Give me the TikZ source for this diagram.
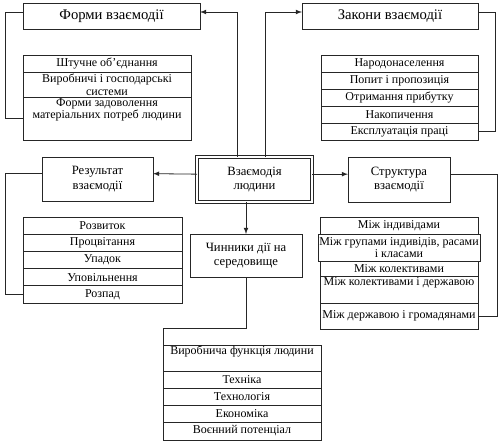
\documentclass[tikz,border=0pt]{standalone}
\usepackage{fontspec}
\setmainfont{Liberation Serif}
\usetikzlibrary{arrows, positioning}
\tikzstyle{title} = [rectangle, draw=black!85, align=center, anchor=north west, outer sep=0pt, font=\fontsize{11}{13}\selectfont]
\tikzstyle{block} = [rectangle, draw=black!85, align=center, anchor=north west, outer sep=0pt, font=\fontsize{9.5}{11}\selectfont]
\tikzstyle{row} = [rectangle, draw=black!85, align=center, inner sep=0pt, inner xsep=1pt, outer sep=0pt, font=\fontsize{9}{9.5}\selectfont]
\tikzstyle{frow} = [row, minimum width=126pt]
\tikzstyle{zrow} = [row, minimum width=117.75pt]
\tikzstyle{rrow} = [row, minimum width=119.25pt]
\tikzstyle{crow} = [row, minimum width=118.5pt]
\tikzstyle{srow} = [row, minimum width=118.5pt]
\tikzstyle{arrow} = [->, >=latex, black!85]
\tikzstyle{link} = [black!85]

\begin{document}
\begin{tikzpicture}[x=0.75pt, y=-0.75pt, line width=0.6pt]
    \useasboundingbox (0,0) rectangle (500,442);

    % Main boxes
    \node (forms) [title, minimum width=132.75pt, minimum height=19.5pt] at (23,3) {Форми взаємодії};
    \node (laws) [title, minimum width=132pt, minimum height=19.5pt] at (302,3) {Закони взаємодії};
    \node (result) [block, minimum width=83.25pt, minimum height=33pt] at (42,157) {Результат\\взаємодії};
    \node (human) [block, minimum width=86.25pt, minimum height=33.75pt, double, double distance=1.2pt] at (197,157) {Взаємодія\\людини};
    \node (struct) [block, minimum width=76.5pt, minimum height=33.75pt] at (348,157) {Структура\\взаємодії};
    \node (factors) [block, minimum width=84pt, minimum height=32.25pt] at (190,234) {Чинники дії на\\середовище};

    % Forms list
    \node (f1) [frow, minimum height=12.75pt, anchor=north west] at (23,55) {Штучне об’єднання};
    \node (f2) [frow, minimum height=18.75pt, below=0pt of f1] {Виробничі і господарські\\системи};
    \node (f3) [frow, minimum height=32.25pt, text depth=15pt, below=0pt of f2] {Форми задоволення\\матеріальних потреб людини};

    % Laws list
    \node (z1) [zrow, minimum height=12.75pt, anchor=north west] at (321,55) {Народонаселення};
    \node (z2) [zrow, minimum height=12.75pt, below=0pt of z1] {Попит і пропозиція};
    \node (z3) [zrow, minimum height=12.75pt, below=0pt of z2] {Отримання прибутку};
    \node (z4) [zrow, minimum height=12.75pt, below=0pt of z3] {Накопичення};
    \node (z5) [zrow, minimum height=12.75pt, below=0pt of z4] {Експлуатація праці};

    % Result list
    \node (r1) [rrow, minimum height=12.9pt, anchor=north west] at (23,217) {Розвиток};
    \node (r2) [rrow, minimum height=12.9pt, below=0pt of r1] {Процвітання};
    \node (r3) [rrow, minimum height=12.9pt, below=0pt of r2] {Упадок};
    \node (r4) [rrow, minimum height=12.9pt, below=0pt of r3] {Уповільнення};
    \node (r5) [rrow, minimum height=12.9pt, below=0pt of r4] {Розпад};

    % Factors list
    \node (c1) [crow, minimum height=19.5pt, text height=7pt, text depth=12pt, anchor=north west] at (163,345) {Виробнича функція людини};
    \node (c2) [crow, minimum height=12.75pt, below=0pt of c1] {Техніка};
    \node (c3) [crow, minimum height=12.75pt, below=0pt of c2] {Технологія};
    \node (c4) [crow, minimum height=12.75pt, below=0pt of c3] {Економіка};
    \node (c5) [crow, minimum height=13.5pt, below=0pt of c4] {Воєнний потенціал};

    % Structure list
    \node (s1) [srow, minimum height=12.75pt, anchor=north west] at (320,217) {Між індивідами};
    \node (s2) [srow, minimum height=20.25pt, below=0pt of s1] {Між групами індивідів, расами\\і класами};
    \node (s3) [srow, minimum height=11.25pt, below=0pt of s2] {Між колективами};
    \node (s4) [srow, minimum height=20.25pt, text height=7pt, text depth=12.5pt, below=0pt of s3] {Між колективами і державою};
    \node (s5) [srow, minimum height=19.5pt, below=0pt of s4] {Між державою і громадянами};

    % Connections
    \draw [arrow] ([xshift=-13pt]human.north) |- ([yshift=3pt]forms.east);
    \draw [arrow] ([xshift=8pt]human.north) |- ([yshift=3pt]laws.west);
    \draw [arrow] ([yshift=4pt]human.west) -- ([yshift=4pt]result.east);
    \draw [arrow] ([yshift=4pt]human.east) -- ([yshift=4pt]struct.west);
    \draw [arrow] (factors.north |- human.south) -- (factors.north);

    \draw [link] ([yshift=3pt]forms.west) -- ++(-18,0) |- (f3.west);
    \draw [link] ([yshift=3pt]laws.east) -- ++(17,0) |- (z5.east);
    \draw [link] ([yshift=4pt]result.west) -- ++(-37,0) |- (r5.west);
    \draw [link] ([yshift=4pt]struct.east) -- ++(47,0) |- (s5.east);
    \draw [link] (factors.south) -- ++(0,51) -| (c1.north west);
\end{tikzpicture}
\end{document}
